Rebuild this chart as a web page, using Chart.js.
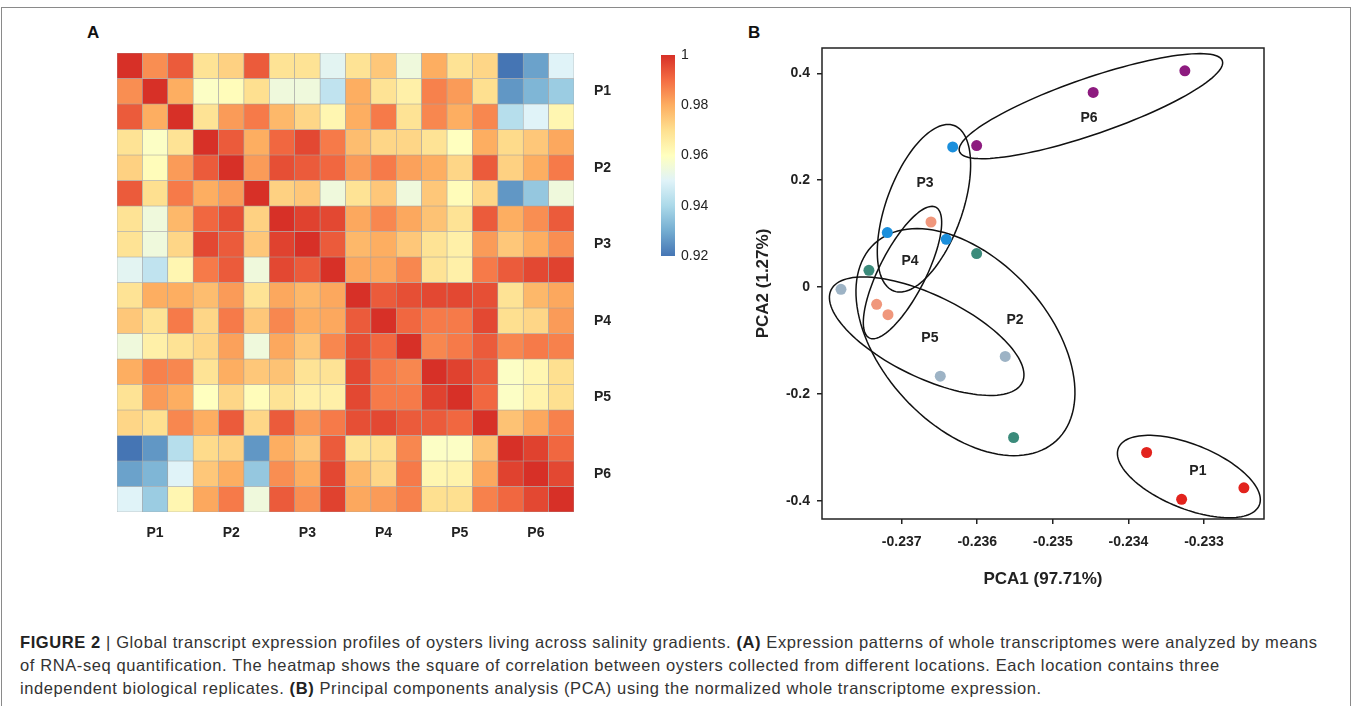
<!DOCTYPE html>
<html>
<head>
<meta charset="utf-8">
<script src="https://cdn.jsdelivr.net/npm/chart.js@4.4.0/dist/chart.umd.min.js"></script>
<style>
  body { margin: 0; background: #fff; width: 1355px; height: 706px; overflow: hidden; position: relative; font-family: "Liberation Sans", Arial, sans-serif; }
  .frame { position: absolute; left: 1px; top: 7px; width: 1350px; height: 720px; border: 1px solid #8a8a8a; box-sizing: border-box; }
  .panel { position: absolute; font-weight: bold; font-size: 17px; color: #111; }
  canvas { position: absolute; }
  .caption { position: absolute; left: 20px; top: 631px; font-size: 16.5px; letter-spacing: 0.6px; line-height: 22.8px; color: #333; white-space: nowrap; }
  .caption b { color: #222; }
</style>
</head>
<body>
<div class="frame"></div>
<div class="panel" style="left:87px; top:23px;">A</div>
<div class="panel" style="left:748px; top:23px;">B</div>
<canvas id="heat_chart" width="518" height="490" style="left:116px; top:52px;"></canvas>
<canvas id="bar_chart" width="60" height="214" style="left:661px; top:49px;"></canvas>
<canvas id="pca_chart" width="540" height="560" style="left:740px; top:40px;"></canvas>
<div class="caption">
<b>FIGURE 2</b> | Global transcript expression profiles of oysters living across salinity gradients. <b>(A)</b> Expression patterns of whole transcriptomes were analyzed by means<br>
of RNA-seq quantification. The heatmap shows the square of correlation between oysters collected from different locations. Each location contains three<br>
independent biological replicates. <b>(B)</b> Principal components analysis (PCA) using the normalized whole transcriptome expression.
</div>
<script>
var groups = ['P1', 'P2', 'P3', 'P4', 'P5', 'P6'];

// squared correlation between the 18 samples (3 replicates per location)
var corr = [
    [1, .985, .993, .969, .973, .993, .969, .969, .951, .969, .975, .955, .980, .969, .972, .920, .928, .950],
    [.985, 1, .980, .959, .961, .970, .955, .955, .944, .980, .969, .965, .987, .983, .970, .926, .932, .937],
    [.993, .980, 1, .969, .983, .988, .978, .972, .963, .980, .988, .969, .986, .980, .986, .942, .950, .963],
    [.969, .959, .969, 1, .993, .980, .991, .996, .988, .977, .972, .972, .969, .960, .980, .971, .975, .981],
    [.973, .961, .983, .993, 1, .983, .995, .993, .991, .983, .988, .982, .980, .972, .993, .973, .980, .988],
    [.993, .970, .988, .980, .983, 1, .973, .975, .955, .969, .975, .955, .975, .961, .972, .926, .936, .955],
    [.969, .955, .978, .991, .995, .973, 1, .997, .996, .981, .986, .981, .976, .969, .993, .980, .985, .993],
    [.969, .955, .972, .996, .993, .975, .997, 1, .993, .978, .980, .975, .969, .965, .983, .975, .980, .985],
    [.951, .944, .963, .988, .993, .955, .996, .993, 1, .981, .981, .986, .969, .965, .988, .993, .996, .997],
    [.969, .980, .980, .977, .983, .969, .981, .978, .981, 1, .993, .995, .996, .996, .995, .969, .978, .981],
    [.975, .969, .988, .972, .988, .975, .986, .980, .981, .993, 1, .991, .988, .988, .996, .970, .972, .983],
    [.955, .965, .969, .972, .982, .955, .981, .975, .986, .995, .991, 1, .986, .988, .993, .986, .988, .987],
    [.980, .987, .986, .969, .980, .975, .976, .969, .969, .996, .988, .986, 1, .997, .993, .959, .963, .970],
    [.969, .983, .980, .960, .972, .961, .969, .965, .965, .996, .988, .988, .997, 1, .991, .959, .964, .970],
    [.972, .970, .986, .980, .993, .972, .993, .983, .988, .995, .996, .993, .993, .991, 1, .976, .981, .987],
    [.920, .926, .942, .971, .973, .926, .980, .975, .993, .969, .970, .986, .959, .959, .976, 1, .997, .991],
    [.928, .932, .950, .975, .980, .936, .985, .980, .996, .978, .972, .988, .963, .964, .981, .997, 1, .996],
    [.950, .937, .963, .981, .988, .955, .993, .985, .997, .981, .983, .987, .970, .970, .987, .991, .996, 1]
];

var barMin = 0.92;
var barMax = 1;
var barTicks = [0.92, 0.94, 0.96, 0.98, 1];

// PCA scores, three replicates per location in the order of groups
var pc1 = [-0.233759, -0.233296, -0.232472,
           -0.236008, -0.237433, -0.235519,
           -0.236325, -0.237190, -0.236410,
           -0.236612, -0.237331, -0.237181,
           -0.237803, -0.235630, -0.236489,
           -0.233253, -0.234466, -0.236008];
var pc2 = [-0.3098, -0.3974, -0.3760,
            0.0626,  0.0313, -0.2817,
            0.2624,  0.1020,  0.0894,
            0.1218, -0.0324, -0.0517,
           -0.0043, -0.1299, -0.1668,
            0.4049,  0.3644,  0.2650];
var pcaColors = ['#e2231d', '#3b8b7b', '#1b8fdc', '#f0977c', '#9db3c5', '#8d1b7f'];

// group ellipses: centre and the two half axes, in PCA units
var ellCx = [-0.233200, -0.236156, -0.236705, -0.236989, -0.236669, -0.234496];
var ellCy = [-0.3548, -0.1031, 0.1475, 0.0272, -0.0920, 0.3387];
var ellAx = [0.000932, 0.001204, 0.000398, 0.000440, 0.001265, 0.001739];
var ellAy = [-0.0534, -0.1844, 0.1550, 0.1224, -0.0866, 0.0849];
var ellBx = [-0.000159, -0.000806, 0.000472, 0.000274, -0.000237, 0.000121];
var ellBy = [-0.0557, -0.1057, -0.0244, -0.0197, -0.0694, -0.0497];
var labX = [-0.233081, -0.235501, -0.236692, -0.236890, -0.236626, -0.234522];
var labY = [-0.3455, -0.0624, 0.1944, 0.0482, -0.0962, 0.3162];

var pcaXTicks = [-0.237, -0.236, -0.235, -0.234, -0.233];
var pcaYTicks = [-0.4, -0.2, 0, 0.2, 0.4];

var heatStops = ['#4575b4', '#74add1', '#abd9e9', '#e0f3f8', '#ffffbf', '#fee090', '#fdae61', '#f46d43', '#d73027'];
var fontFam = "'Liberation Sans', Arial, sans-serif";
var tickFont = {family: fontFam, size: 14, weight: 'bold'};

function hexRgb(h){
    return [parseInt(h.substr(1, 2), 16), parseInt(h.substr(3, 2), 16), parseInt(h.substr(5, 2), 16)];
}

function heatColor(v){
    var t = (v - barMin) / (barMax - barMin) * (heatStops.length - 1);
    t = Math.max(0, Math.min(heatStops.length - 1, t));
    var i = Math.min(Math.floor(t), heatStops.length - 2);
    var f = t - i;
    var a = hexRgb(heatStops[i]), b = hexRgb(heatStops[i + 1]);
    return 'rgb(' + Math.round(a[0] + (b[0] - a[0]) * f) + ',' + Math.round(a[1] + (b[1] - a[1]) * f) + ',' + Math.round(a[2] + (b[2] - a[2]) * f) + ')';
}

// fixed axis sizes, and no extra room for half labels at the ends
function fixSize(w, h){
    return function(s){
        if (w !== null) s.width = w;
        if (h !== null) s.height = h;
        s.paddingTop = 0; s.paddingBottom = 0; s.paddingLeft = 0; s.paddingRight = 0;
    };
}

Chart.defaults.animation = false;
Chart.defaults.color = '#222';
Chart.defaults.plugins.legend.display = false;
Chart.defaults.plugins.tooltip.enabled = false;

// ---- heatmap (A) ----
var samples = [];
groups.forEach(function(g){
    for (var k = 1; k <= 3; k++) samples.push(g + '-' + k);
});

var heatSets = [];
corr.forEach(function(row, r){
    heatSets.push({
        data: row.map(function(){ return [r, r + 1]; }),
        backgroundColor: row.map(heatColor),
        borderColor: '#a4a4a4',
        borderWidth: 0.6,
        borderSkipped: false,
        grouped: false,
        barPercentage: 1,
        categoryPercentage: 1
    });
});

new Chart(document.getElementById('heat_chart').getContext('2d'), {
    type: 'bar',
    data: {labels: samples, datasets: heatSets},
    options: {
        responsive: false,
        layout: {padding: {left: 1, top: 1}},
        scales: {
            x: {
                grid: {display: false, drawTicks: false},
                border: {display: false},
                afterFit: fixSize(null, 30),
                ticks: {
                    autoSkip: false, maxRotation: 0, padding: 13, font: tickFont,
                    callback: function(v, i){ return i % 3 === 1 ? groups[(i - 1) / 3] : ''; }
                }
            },
            y: {
                position: 'right', min: 0, max: corr.length, reverse: true,
                grid: {display: false, drawTicks: false},
                border: {display: false},
                afterFit: fixSize(60, null),
                afterBuildTicks: function(s){
                    s.ticks = groups.map(function(g, i){ return {value: i * 3 + 1.5}; });
                },
                ticks: {
                    padding: 20, font: tickFont,
                    callback: function(v, i){ return groups[i]; }
                }
            }
        }
    }
});

// ---- colour bar ----
new Chart(document.getElementById('bar_chart').getContext('2d'), {
    type: 'bar',
    data: {
        labels: [''],
        datasets: [{
            data: [[barMin, barMax]],
            barPercentage: 1,
            categoryPercentage: 1,
            backgroundColor: function(ctx){
                var area = ctx.chart.chartArea;
                if (!area) return null;
                var g = ctx.chart.ctx.createLinearGradient(0, area.bottom, 0, area.top);
                heatStops.forEach(function(c, i){ g.addColorStop(i / (heatStops.length - 1), c); });
                return g;
            }
        }]
    },
    options: {
        responsive: false,
        layout: {padding: {top: 6, bottom: 7}},
        scales: {
            x: {display: false},
            y: {
                position: 'right', min: barMin, max: barMax,
                grid: {display: false, drawTicks: false},
                border: {display: false},
                afterFit: fixSize(46, null),
                afterBuildTicks: function(s){
                    s.ticks = barTicks.map(function(v){ return {value: v}; });
                },
                ticks: {
                    padding: 6,
                    font: {family: fontFam, size: 14},
                    callback: function(v){ return String(+v.toFixed(2)); }
                }
            }
        }
    }
});

// ---- PCA (B) ----
var pcaSets = [];
groups.forEach(function(g, gi){
    var pts = [];
    for (var k = 0; k < 3; k++) pts.push({x: pc1[gi * 3 + k], y: pc2[gi * 3 + k]});
    pcaSets.push({
        label: g,
        data: pts,
        backgroundColor: pcaColors[gi],
        borderWidth: 0,
        pointRadius: 5.5
    });
});

var ellipsePlugin = {
    id: 'ellipses',
    beforeDatasetsDraw: function(chart){
        var c = chart.ctx, xs = chart.scales.x, ys = chart.scales.y;
        c.save();
        c.strokeStyle = '#111';
        c.lineWidth = 1.5;
        for (var e = 0; e < ellCx.length; e++){
            c.beginPath();
            for (var s = 0; s <= 120; s++){
                var t = s / 120 * Math.PI * 2;
                var px = xs.getPixelForValue(ellCx[e] + Math.cos(t) * ellAx[e] + Math.sin(t) * ellBx[e]);
                var py = ys.getPixelForValue(ellCy[e] + Math.cos(t) * ellAy[e] + Math.sin(t) * ellBy[e]);
                if (s === 0) c.moveTo(px, py); else c.lineTo(px, py);
            }
            c.closePath();
            c.stroke();
        }
        c.restore();
    },
    afterDatasetsDraw: function(chart){
        var c = chart.ctx, xs = chart.scales.x, ys = chart.scales.y, a = chart.chartArea;
        c.save();
        c.fillStyle = '#222';
        c.font = 'bold 14px ' + fontFam;
        c.textAlign = 'center';
        c.textBaseline = 'middle';
        groups.forEach(function(g, i){
            c.fillText(g, xs.getPixelForValue(labX[i]), ys.getPixelForValue(labY[i]));
        });
        c.strokeStyle = '#222';
        c.lineWidth = 1.5;
        c.strokeRect(a.left, a.top, a.right - a.left, a.bottom - a.top);
        c.restore();
    }
};

new Chart(document.getElementById('pca_chart').getContext('2d'), {
    type: 'scatter',
    data: {datasets: pcaSets},
    plugins: [ellipsePlugin],
    options: {
        responsive: false,
        layout: {padding: {top: 8, right: 16}},
        scales: {
            x: {
                min: -0.238054, max: -0.232206,
                grid: {drawOnChartArea: false, tickLength: 5, color: '#222', lineWidth: 1.5},
                border: {display: false},
                afterFit: fixSize(null, 81),
                afterBuildTicks: function(s){
                    s.ticks = pcaXTicks.map(function(v){ return {value: v}; });
                },
                ticks: {
                    padding: 10, font: tickFont, maxRotation: 0,
                    callback: function(v){ return v.toFixed(3); }
                },
                title: {
                    display: true, text: 'PCA1 (97.71%)',
                    font: {family: fontFam, size: 17, weight: 'bold'},
                    padding: {bottom: 10}
                }
            },
            y: {
                min: -0.4343, max: 0.4476,
                grid: {drawOnChartArea: false, tickLength: 5, color: '#222', lineWidth: 1.5},
                border: {display: false},
                afterFit: fixSize(82, null),
                afterBuildTicks: function(s){
                    s.ticks = pcaYTicks.map(function(v){ return {value: v}; });
                },
                ticks: {
                    padding: 7, font: tickFont,
                    callback: function(v){ return String(+v.toFixed(1)); }
                },
                title: {
                    display: true, text: 'PCA2 (1.27%)',
                    font: {family: fontFam, size: 17, weight: 'bold'},
                    padding: {top: 13}
                }
            }
        }
    }
});
</script>
</body>
</html>
